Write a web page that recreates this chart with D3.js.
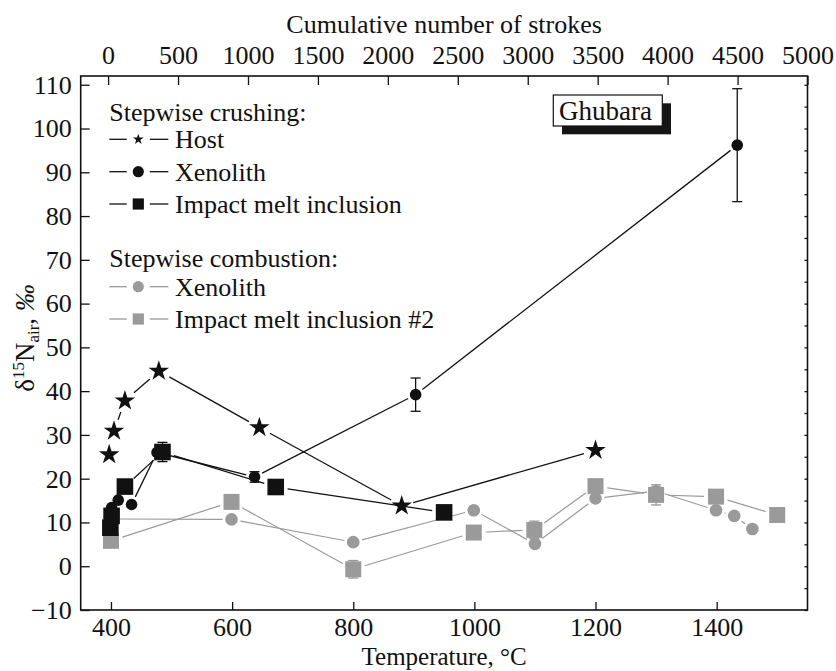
<!DOCTYPE html>
<html>
<head>
<meta charset="utf-8">
<script src="https://cdn.jsdelivr.net/npm/d3@7"></script>
<style>
  html, body { margin: 0; padding: 0; background: #fff; }
  svg { display: block; }
  text { font-family: "Liberation Serif", "Times New Roman", serif; fill: #111; }
</style>
</head>
<body>
<svg id="chart" width="836" height="671"></svg>
<script>
// Stepwise crushing: host rock (stars)
const hostTemp = [397, 405, 423, 479, 645, 880, 1200];
const hostD15N = [25.5, 30.9, 37.8, 44.6, 31.7, 13.8, 26.5];

// Stepwise crushing: xenolith (black circles)
const xenoTemp = [399, 401, 412, 434, 476, 637, 903, 1434];
const xenoD15N = [12.1, 13.4, 15.1, 14.1, 26.0, 20.4, 39.2, 96.2];
const xenoErr  = [0, 0, 0, 0, 0, 1.2, 3.8, 12.9];

// Stepwise crushing: impact melt inclusion (black squares)
const imiTemp = [399, 401, 423, 485, 672, 950];
const imiD15N = [8.8, 11.5, 18.2, 26.1, 18.1, 12.3];
const imiErr  = [0, 0, 0, 2.2, 0, 0];

// Stepwise combustion: xenolith (grey circles)
const combXenoTemp = [400, 599, 800, 999, 1100, 1200, 1300, 1399, 1429, 1459];
const combXenoD15N = [10.8, 10.7, 5.5, 12.8, 5.1, 15.5, 17.2, 12.8, 11.5, 8.5];

// Stepwise combustion: impact melt inclusion #2 (grey squares)
const combImiTemp = [400, 599, 800, 999, 1099, 1200, 1300, 1399, 1500];
const combImiD15N = [5.8, 14.7, -0.7, 7.7, 8.3, 18.3, 16.3, 15.9, 11.7];
const combImiErr  = [0, 0, 2.0, 0, 2.0, 0, 2.3, 0, 0];

// Axis ticks
const tempTicks = [400, 600, 800, 1000, 1200, 1400];
const strokeTicks = [0, 500, 1000, 1500, 2000, 2500, 3000, 3500, 4000, 4500, 5000];
const d15nTicks = [-10, 0, 10, 20, 30, 40, 50, 60, 70, 80, 90, 100, 110];
const d15nMinorTicks = d3.range(-10, 111, 5);

const BLACK = "#111";
const GREY = "#9a9a9a";
const FONT = 26;

const svg = d3.select("#chart");
const L = 80.7, R = 807.5, T = 76, B = 610;

const x = d3.scaleLinear().domain([350, 1550]).range([L, R]);
const xTop = d3.scaleLinear().domain([-196, 5000]).range([L, R]);
const y = d3.scaleLinear().domain([-10, 112]).range([B, T]);

function styleAxis(g, showLabels) {
  g.select(".domain").remove();
  g.selectAll(".tick line").attr("stroke", BLACK).attr("stroke-width", 1.3);
  g.selectAll(".tick text")
    .attr("font-family", "Liberation Serif, serif")
    .attr("font-size", FONT)
    .attr("fill", BLACK);
  if (!showLabels) g.selectAll(".tick text").remove();
}

// Bottom axis (temperature)
svg.append("g").attr("transform", `translate(0,${B})`)
  .call(d3.axisBottom(x).tickValues(tempTicks).tickSizeInner(-8).tickSizeOuter(0).tickPadding(8).tickFormat(d3.format("d")))
  .call(g => styleAxis(g, true));

// Top axis (cumulative strokes)
svg.append("g").attr("transform", `translate(0,${T})`)
  .call(d3.axisTop(xTop).tickValues(strokeTicks).tickSizeInner(-9).tickSizeOuter(0).tickPadding(12.5).tickFormat(d3.format("d")))
  .call(g => styleAxis(g, true));

// Left axis (delta 15N)
svg.append("g").attr("transform", `translate(${L},0)`)
  .call(d3.axisLeft(y).tickValues(d15nTicks).tickSizeInner(-9).tickSizeOuter(0).tickPadding(9))
  .call(g => styleAxis(g, true));

// Right axis: minor ticks only
svg.append("g").attr("transform", `translate(${R},0)`)
  .call(d3.axisRight(y).tickValues(d15nMinorTicks).tickSizeInner(-3).tickSizeOuter(0).tickFormat(""))
  .call(g => styleAxis(g, false));

// Frame
svg.append("rect")
  .attr("x", L).attr("y", T).attr("width", R - L).attr("height", B - T)
  .attr("fill", "none").attr("stroke", BLACK).attr("stroke-width", 1.6);

// Axis titles
svg.append("text")
  .attr("x", (L + R) / 2).attr("y", 33)
  .attr("text-anchor", "middle").attr("font-size", FONT)
  .text("Cumulative number of strokes");

svg.append("text")
  .attr("x", (L + R) / 2).attr("y", 665)
  .attr("text-anchor", "middle").attr("font-size", 25)
  .text("Temperature, °C");

const yTitle = svg.append("text")
  .attr("transform", "translate(34,338) rotate(-90)")
  .attr("text-anchor", "middle").attr("font-size", 27);
yTitle.append("tspan").text("δ");
yTitle.append("tspan").attr("font-size", 17).attr("dy", -10).text("15");
yTitle.append("tspan").attr("dy", 10).text("N");
yTitle.append("tspan").attr("font-size", 17).attr("dy", 5).text("air");
yTitle.append("tspan").attr("dy", -5).text(", ");
yTitle.append("tspan").attr("font-style", "italic").text("‰");

// Plot layer
const plot = svg.append("g");

function zipPts(ts, vs) { return ts.map((t, i) => [x(t), y(vs[i])]); }

// connecting segments that stop short of the symbols
function drawGappedLine(pts, trim, color, width) {
  for (let i = 0; i < pts.length - 1; i++) {
    const [x0, y0] = pts[i], [x1, y1] = pts[i + 1];
    const dx = x1 - x0, dy = y1 - y0, len = Math.hypot(dx, dy);
    if (len <= 2 * trim + 1) continue;
    const ux = dx / len, uy = dy / len;
    plot.append("line")
      .attr("x1", x0 + ux * trim).attr("y1", y0 + uy * trim)
      .attr("x2", x1 - ux * trim).attr("y2", y1 - uy * trim)
      .attr("stroke", color).attr("stroke-width", width);
  }
}

function drawErrors(ts, vs, errs, color) {
  ts.forEach((t, i) => {
    const e = errs[i];
    if (!e) return;
    const cx = x(t), yt = y(vs[i] + e), yb = y(vs[i] - e);
    const g = plot.append("g").attr("stroke", color).attr("stroke-width", 1.3);
    g.append("line").attr("x1", cx).attr("x2", cx).attr("y1", yt).attr("y2", yb);
    g.append("line").attr("x1", cx - 5).attr("x2", cx + 5).attr("y1", yt).attr("y2", yt);
    g.append("line").attr("x1", cx - 5).attr("x2", cx + 5).attr("y1", yb).attr("y2", yb);
  });
}

function drawSquares(g, pts, half, color) {
  pts.forEach(([px, py]) => {
    g.append("rect").attr("x", px - half).attr("y", py - half)
      .attr("width", 2 * half).attr("height", 2 * half).attr("fill", color);
  });
}
function drawCircles(g, pts, r, color) {
  pts.forEach(([px, py]) => {
    g.append("circle").attr("cx", px).attr("cy", py).attr("r", r).attr("fill", color);
  });
}
const starPath = s => d3.symbol().type(d3.symbolStar).size(s)();
function drawStars(g, pts, size, color) {
  pts.forEach(([px, py]) => {
    g.append("path").attr("d", starPath(size))
      .attr("transform", `translate(${px},${py})`).attr("fill", color);
  });
}

// Combustion series (grey, behind)
const cxPts = zipPts(combXenoTemp, combXenoD15N);
const ciPts = zipPts(combImiTemp, combImiD15N);
drawGappedLine(cxPts, 9, GREY, 1.2);
drawGappedLine(ciPts, 12, GREY, 1.2);
drawErrors(combImiTemp, combImiD15N, combImiErr, GREY);
drawCircles(plot, cxPts, 6.3, GREY);
drawSquares(plot, ciPts, 8, GREY);

// Crushing series (black)
const hPts = zipPts(hostTemp, hostD15N);
const xPts = zipPts(xenoTemp, xenoD15N);
const iPts = zipPts(imiTemp, imiD15N);
drawGappedLine(hPts, 12, BLACK, 1.3);
drawGappedLine(xPts, 8.5, BLACK, 1.3);
drawGappedLine(iPts, 12, BLACK, 1.3);
drawErrors(xenoTemp, xenoD15N, xenoErr, BLACK);
drawErrors(imiTemp, imiD15N, imiErr, BLACK);
drawStars(plot, hPts, 131, BLACK);
drawCircles(plot, xPts, 5.8, BLACK);
drawSquares(plot, iPts, 8.3, BLACK);

// Legend
const leg = svg.append("g");
const legX0 = 109.3, legX1 = 168.3, legMark = 138.3, legText = 175;
leg.append("text").attr("x", legX0).attr("y", 120.7).attr("font-size", FONT).text("Stepwise crushing:");
leg.append("text").attr("x", legX0).attr("y", 266.7).attr("font-size", FONT).text("Stepwise combustion:");

const legendRows = [
  { label: "Host", cy: 139.3, color: BLACK, shape: "star" },
  { label: "Xenolith", cy: 171.7, color: BLACK, shape: "circle" },
  { label: "Impact melt inclusion", cy: 204, color: BLACK, shape: "square" },
  { label: "Xenolith", cy: 286.7, color: GREY, shape: "circle" },
  { label: "Impact melt inclusion #2", cy: 319, color: GREY, shape: "square" }
];
legendRows.forEach(r => {
  leg.append("line").attr("x1", legX0).attr("x2", legMark - 11.5)
    .attr("y1", r.cy).attr("y2", r.cy).attr("stroke", r.color).attr("stroke-width", 1.3);
  leg.append("line").attr("x1", legMark + 11.5).attr("x2", legX1)
    .attr("y1", r.cy).attr("y2", r.cy).attr("stroke", r.color).attr("stroke-width", 1.3);
  if (r.shape === "star") drawStars(leg, [[legMark, r.cy]], 36, r.color);
  if (r.shape === "circle") drawCircles(leg, [[legMark, r.cy]], 5.6, r.color);
  if (r.shape === "square") drawSquares(leg, [[legMark, r.cy]], 5.6, r.color);
  leg.append("text").attr("x", legText).attr("y", r.cy + 9).attr("font-size", FONT).text(r.label);
});

// Site label with drop shadow
const site = svg.append("g");
site.append("rect").attr("x", 562).attr("y", 103.3).attr("width", 109).attr("height", 31).attr("fill", "#151515");
site.append("rect").attr("x", 553.3).attr("y", 95).attr("width", 109).attr("height", 31)
  .attr("fill", "#fff").attr("stroke", BLACK).attr("stroke-width", 1.2);
site.append("text").attr("x", 559).attr("y", 119.5).attr("font-size", 27).text("Ghubara");
</script>
</body>
</html>
